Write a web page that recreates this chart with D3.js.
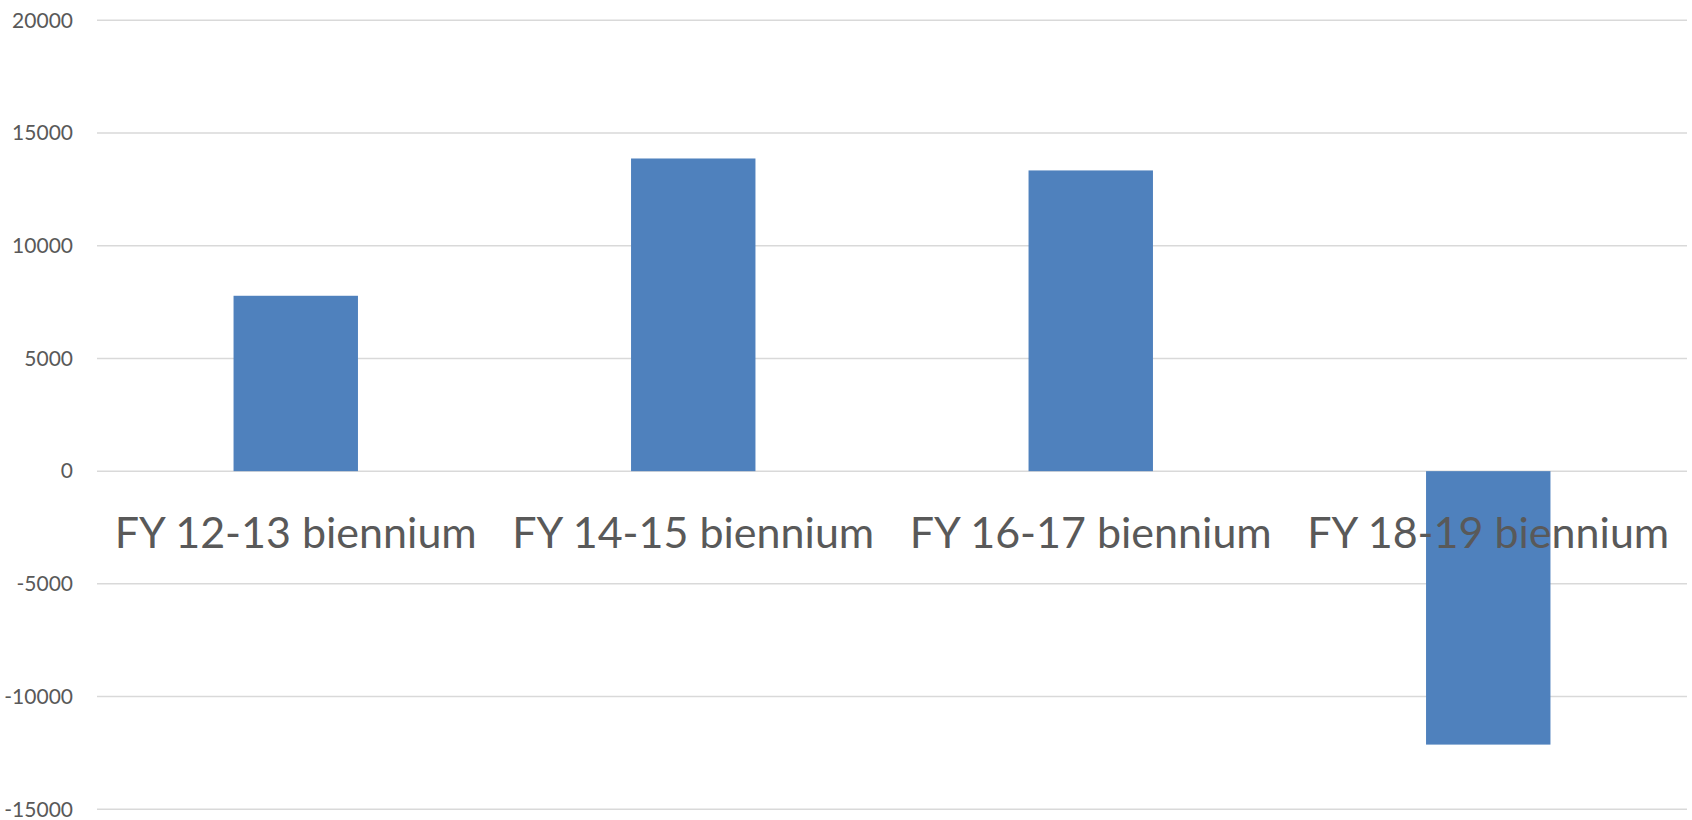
<!DOCTYPE html>
<html>
<head>
<meta charset="utf-8">
<script src="https://cdn.jsdelivr.net/npm/d3@7"></script>
<style>
  html, body { margin: 0; padding: 0; background: #fff; }
  svg { display: block; }
</style>
</head>
<body>
<svg id="chart" width="1692" height="820"></svg>
<script>
const categories = ["FY 12-13 biennium", "FY 14-15 biennium", "FY 16-17 biennium", "FY 18-19 biennium"];
const values = [7780, 13870, 13340, -12130];
const yTicks = [-15000, -10000, -5000, 0, 5000, 10000, 15000, 20000];

(function () {
const svg = d3.select("#chart");
const plotLeft = 97, plotRight = 1687, plotTop = 20.3, plotBottom = 809.3;

const x = d3.scaleBand().domain(categories).range([plotLeft, plotRight])
  .paddingInner(0.687).paddingOuter(0.3435);
const y = d3.scaleLinear().domain([-15000, 20000]).range([plotBottom, plotTop]);

// gridlines
svg.append("g").selectAll("line").data(yTicks).join("line")
  .attr("x1", plotLeft).attr("x2", plotRight)
  .attr("y1", d => y(d)).attr("y2", d => y(d))
  .attr("stroke", "#d9d9d9").attr("stroke-width", 1.5);

// y tick labels via axis
const yAxis = d3.axisLeft(y).tickValues(yTicks).tickSize(0).tickPadding(0).tickFormat(d => String(d));
const ya = svg.append("g").attr("transform", "translate(73,0)").call(yAxis);
ya.select(".domain").remove();
ya.selectAll("text").attr("fill", "#595959").style("font-family", "Lato, 'Open Sans', sans-serif").style("font-size", "21px");

// bars
svg.append("g").selectAll("rect").data(categories).join("rect")
  .attr("x", d => x(d))
  .attr("width", x.bandwidth())
  .attr("y", (d, i) => y(Math.max(0, values[i])))
  .attr("height", (d, i) => Math.abs(y(values[i]) - y(0)))
  .attr("fill", "#4f81bd");

// category labels
svg.append("g").selectAll("text").data(categories).join("text")
  .attr("x", d => x(d) + x.bandwidth() / 2)
  .attr("y", 548)
  .attr("text-anchor", "middle")
  .attr("fill", "#595959")
  .style("font-family", "Lato, 'Open Sans', sans-serif")
  .style("font-size", "43px")
  .text(d => d);
})();
</script>
</body>
</html>
